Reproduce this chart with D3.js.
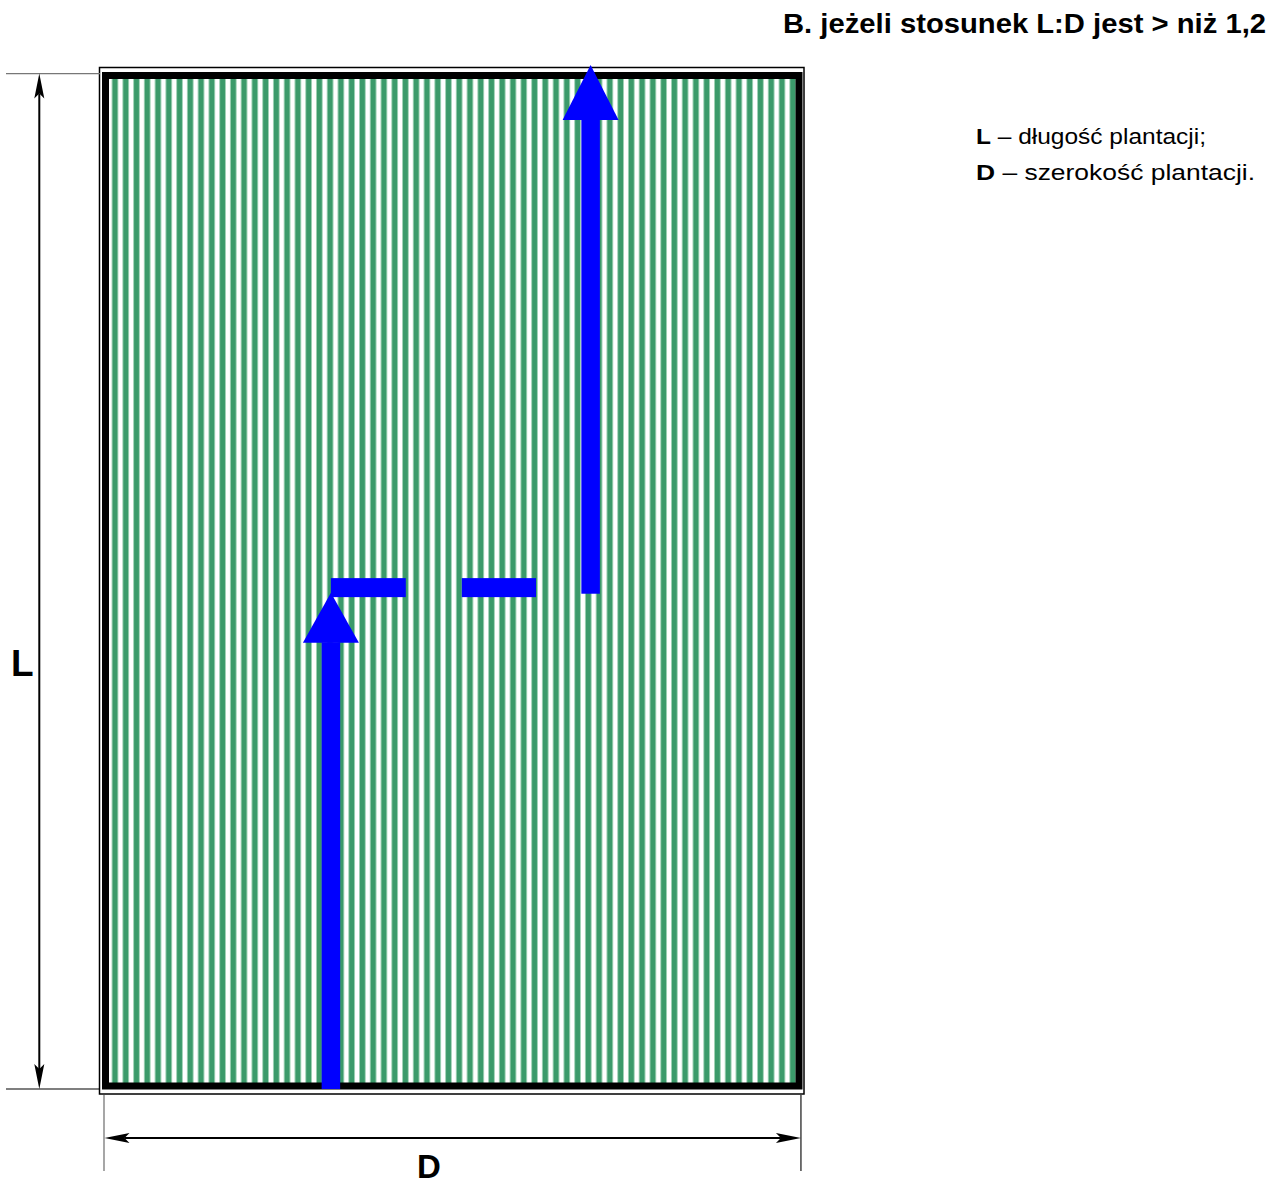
<!DOCTYPE html>
<html>
<head>
<meta charset="utf-8">
<script src="https://cdn.jsdelivr.net/npm/d3@7"></script>
<style>
  html, body { margin: 0; padding: 0; background: #fff; }
  svg { display: block; font-family: "Liberation Sans", Arial, sans-serif; }
</style>
</head>
<body>
<svg id="chart" width="1273" height="1185"></svg>
<script>
// ---------- data ----------
const title = "B. jeżeli stosunek L:D jest > niż 1,2";
const legendKeys = ["L", "D"];
const legendTexts = [" – długość plantacji;", " – szerokość plantacji."];
const dimLabels = { length: "L", width: "D" };

// plantation units: x across (0..100 = D), y along length from bottom (0..100 = L)
const rowIds = d3.range(64);                 // planted rows (stripes)
const arrowRuns = [                          // vertical runs with arrow heads
  { x: 32.7, from: 0.0, to: 48.8 },
  { x: 69.8, from: 48.7, to: 100.7 }
];
const dashRuns = [                           // horizontal dashed crossing
  { y: 49.3, from: 32.7, to: 43.4 },
  { y: 49.3, from: 51.4, to: 62.0 }
];

// ---------- layout ----------
const svg = d3.select("#chart");
const x = d3.scaleLinear().domain([0, 100]).range([102, 802]);
const y = d3.scaleLinear().domain([0, 100]).range([1089, 72]);
const rowBand = d3.scaleBand().domain(rowIds).range([109.6, 798.1]);

const GREEN = "#3b9a6a", GREEN_LIGHT = "#9fd1b5", BLUE = "#0000ff";

// stripes (rows)
svg.append("clipPath").attr("id", "inner")
  .append("rect").attr("x", x(0)).attr("y", y(100)).attr("width", x(100) - x(0)).attr("height", y(0) - y(100));
const stripes = svg.append("g").attr("clip-path", "url(#inner)");
stripes.selectAll("rect.l").data(rowIds).join("rect")
  .attr("class", "l")
  .attr("x", d => rowBand(d) + rowBand.bandwidth() / 2 - 3.4)
  .attr("width", 6.8)
  .attr("y", y(100)).attr("height", y(0) - y(100))
  .attr("fill", GREEN_LIGHT);
stripes.selectAll("rect.d").data(rowIds).join("rect")
  .attr("class", "d")
  .attr("x", d => rowBand(d) + rowBand.bandwidth() / 2 - 2.4)
  .attr("width", 4.8)
  .attr("y", y(100)).attr("height", y(0) - y(100))
  .attr("fill", GREEN);

// thick border
svg.append("rect")
  .attr("x", x(0) + 3.5).attr("y", y(100) + 3.5)
  .attr("width", x(100) - x(0) - 6.5).attr("height", y(0) - y(100) - 6.5)
  .attr("fill", "none").attr("stroke", "#000").attr("stroke-width", 7);
// thin outer frame
svg.append("rect")
  .attr("x", x(0) - 2.5).attr("y", y(100) - 4.5)
  .attr("width", x(100) - x(0) + 4.5).attr("height", y(0) - y(100) + 9.5)
  .attr("fill", "none").attr("stroke", "#000").attr("stroke-width", 1.5);

// blue route
const route = svg.append("g").attr("fill", BLUE);
const headLen = [50, 55], headHalf = 28, shaftW = 18.5, dashH = 19;
arrowRuns.forEach((r, i) => {
  const cx = x(r.x), tipY = y(r.to), baseY = tipY + headLen[i];
  route.append("rect")
    .attr("x", cx - shaftW / 2).attr("width", shaftW)
    .attr("y", baseY - 0.5).attr("height", y(r.from) - baseY + 0.5);
  route.append("path")
    .attr("d", `M${cx},${tipY}L${cx + headHalf},${baseY}L${cx - headHalf},${baseY}Z`);
});
route.selectAll("rect.dash").data(dashRuns).join("rect")
  .attr("class", "dash")
  .attr("x", d => x(d.from)).attr("width", d => x(d.to) - x(d.from))
  .attr("y", d => y(d.y) - dashH / 2).attr("height", dashH);

// ---------- dimension lines ----------
const dim = svg.append("g");
function arrowHead(tx, ty, dir) { // dir: unit vector pointing toward tip
  const L = 25, W = 5, N = 20;
  const [dx, dy] = dir, px = -dy, py = dx;
  const bx = tx - dx * L, by = ty - dy * L;
  const nx = tx - dx * N, ny = ty - dy * N;
  return `M${tx},${ty}L${bx + px * W},${by + py * W}L${nx},${ny}L${bx - px * W},${by - py * W}Z`;
}
// extension lines
dim.append("line").attr("x1", 6).attr("x2", 100).attr("y1", y(99.85)).attr("y2", y(99.85))
  .attr("stroke", "#777").attr("stroke-width", 1.3);
dim.append("line").attr("x1", 6).attr("x2", 100).attr("y1", y(0)).attr("y2", y(0))
  .attr("stroke", "#000").attr("stroke-width", 1.2);
dim.append("line").attr("x1", 104).attr("x2", 104).attr("y1", 1095).attr("y2", 1171)
  .attr("stroke", "#777").attr("stroke-width", 1.3);
dim.append("line").attr("x1", x(99.85)).attr("x2", x(99.85)).attr("y1", 1095).attr("y2", 1171)
  .attr("stroke", "#000").attr("stroke-width", 1.1);
// L arrow
const lx = 39.3, ly0 = y(99.85), ly1 = y(0);
dim.append("line").attr("x1", lx).attr("x2", lx).attr("y1", ly0 + 20).attr("y2", ly1 - 20)
  .attr("stroke", "#000").attr("stroke-width", 2);
dim.append("path").attr("d", arrowHead(lx, ly0, [0, -1]));
dim.append("path").attr("d", arrowHead(lx, ly1, [0, 1]));
// D arrow
const dy0 = 1138, dx0 = 104.5, dx1 = x(99.85);
dim.append("line").attr("x1", dx0 + 20).attr("x2", dx1 - 20).attr("y1", dy0).attr("y2", dy0)
  .attr("stroke", "#000").attr("stroke-width", 2.2);
dim.append("path").attr("d", arrowHead(dx0, dy0, [-1, 0]));
dim.append("path").attr("d", arrowHead(dx1, dy0, [1, 0]));

// labels
svg.append("text").attr("x", 11).attr("y", 676)
  .attr("font-size", 37).attr("font-weight", "bold").text(dimLabels.length);
svg.append("text").attr("x", 429).attr("y", 1178).attr("text-anchor", "middle")
  .attr("font-size", 33).attr("font-weight", "bold").text(dimLabels.width);

// title
svg.append("text").attr("x", 783).attr("y", 33)
  .attr("font-size", 27).attr("font-weight", "bold")
  .attr("textLength", 483).attr("lengthAdjust", "spacingAndGlyphs")
  .text(title);

// legend
const legendY = [143.5, 179.5], legendLen = [230, 279];
legendKeys.forEach((k, i) => {
  const t = svg.append("text").attr("x", 976).attr("y", legendY[i])
    .attr("font-size", 21.5)
    .attr("textLength", legendLen[i]).attr("lengthAdjust", "spacingAndGlyphs");
  t.append("tspan").attr("font-weight", "bold").text(k);
  t.append("tspan").text(legendTexts[i]);
});
</script>
</body>
</html>
